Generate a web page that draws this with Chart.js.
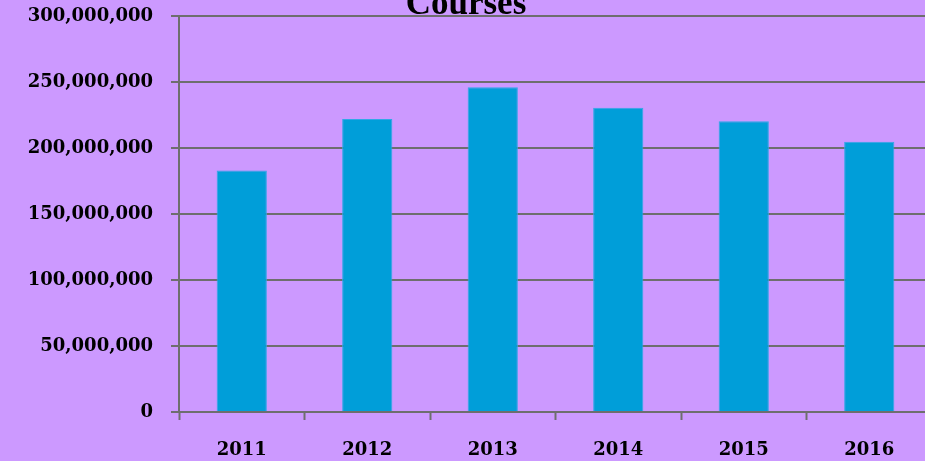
<!DOCTYPE html>
<html lang="en">
<head>
    <meta charset="UTF-8">
    <title>Courses</title>
    <script src="https://cdn.jsdelivr.net/npm/chart.js"></script>
    <style>
        html, body {
            margin: 0;
            padding: 0;
            background: #CC99FF;
            overflow: hidden;
        }
        /* chart is a bit larger than the window, like the cropped original */
        .chart-box {
            position: absolute;
            left: 0;
            top: -15px;
            width: 960px;
            height: 476px;
        }
    </style>
</head>
<body>
    <div class="chart-box">
        <canvas id="coursesChart"></canvas>
    </div>

    <script>
        // Data
        const years = ['2011', '2012', '2013', '2014', '2015', '2016'];
        const courses = [183000000, 222000000, 246000000, 230600000, 220200000, 204800000];
        const yTicks = [0, 50000000, 100000000, 150000000, 200000000, 250000000, 300000000];

        const gridColor = '#6E6E6E';
        const tickFont = { family: '"DejaVu Serif", serif', size: 18, weight: 'bold' };

        const ctx = document.getElementById('coursesChart').getContext('2d');

        new Chart(ctx, {
            type: 'bar',
            data: {
                labels: years,
                datasets: [{
                    label: 'Courses',
                    data: courses,
                    backgroundColor: '#009ED9',
                    borderColor: '#2FA8E6',
                    borderWidth: 1,
                    barPercentage: 0.4,
                    categoryPercentage: 1.0
                }]
            },
            options: {
                responsive: true,
                maintainAspectRatio: false,
                animation: false,
                layout: { padding: { left: 0, right: 28, top: 0, bottom: 0 } },
                plugins: {
                    legend: { display: false },
                    tooltip: { enabled: false },
                    title: {
                        display: true,
                        text: 'Courses',
                        color: '#000',
                        font: { family: '"Liberation Serif", serif', size: 35, weight: 'bold', lineHeight: 0.63 },
                        padding: { top: 9, bottom: 0 }
                    }
                },
                scales: {
                    x: {
                        grid: {
                            offset: true,
                            drawOnChartArea: false,
                            drawTicks: true,
                            tickLength: 8,
                            tickWidth: 2,
                            color: gridColor
                        },
                        border: { display: true, color: gridColor, width: 2 },
                        ticks: { color: '#000', font: tickFont, padding: 20 },
                        afterFit: (scale) => { scale.height = 49; }
                    },
                    y: {
                        min: 0,
                        max: 300000000,
                        afterBuildTicks: (scale) => {
                            scale.ticks = yTicks.map(v => ({ value: v }));
                        },
                        grid: {
                            drawTicks: true,
                            tickLength: 8,
                            lineWidth: 2,
                            color: gridColor
                        },
                        border: { display: true, color: gridColor, width: 2 },
                        ticks: {
                            color: '#000',
                            font: tickFont,
                            padding: 18,
                            callback: (v) => Number(v).toLocaleString('en-US')
                        },
                        afterFit: (scale) => { scale.width = 179; }
                    }
                }
            }
        });
    </script>
</body>
</html>
